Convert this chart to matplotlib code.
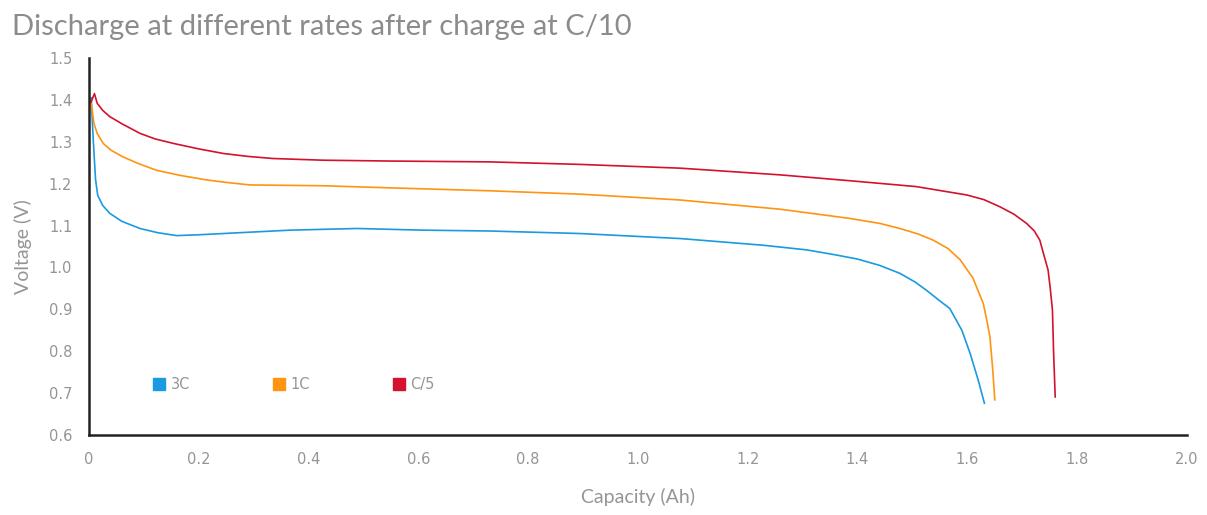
import matplotlib
matplotlib.use('Agg')
import matplotlib.pyplot as plt
from matplotlib.lines import Line2D

# Discharge curves (capacity in Ah, voltage in V)
cap_3c = [0.004, 0.008, 0.012, 0.016, 0.025, 0.038, 0.060, 0.093, 0.125, 0.160,
          0.200, 0.245, 0.366, 0.488, 0.609, 0.730, 0.894, 1.077, 1.228, 1.307,
          1.360, 1.400, 1.440, 1.477, 1.505, 1.526, 1.550, 1.568, 1.590, 1.605,
          1.620, 1.631]
volt_3c = [1.405, 1.300, 1.210, 1.172, 1.148, 1.129, 1.110, 1.093, 1.083, 1.076,
           1.078, 1.081, 1.089, 1.093, 1.089, 1.087, 1.081, 1.069, 1.053, 1.042,
           1.030, 1.020, 1.005, 0.986, 0.965, 0.945, 0.920, 0.902, 0.850, 0.795,
           0.730, 0.676]

cap_1c = [0.004, 0.009, 0.015, 0.026, 0.040, 0.062, 0.090, 0.123, 0.165, 0.214,
          0.250, 0.293, 0.427, 0.548, 0.730, 0.894, 1.077, 1.259, 1.386, 1.441,
          1.477, 1.510, 1.538, 1.565, 1.587, 1.610, 1.629, 1.636, 1.641, 1.646,
          1.650]
volt_1c = [1.395, 1.344, 1.320, 1.296, 1.280, 1.264, 1.248, 1.232, 1.220, 1.209,
           1.203, 1.197, 1.195, 1.190, 1.183, 1.175, 1.161, 1.139, 1.117, 1.105,
           1.093, 1.080, 1.065, 1.045, 1.018, 0.975, 0.914, 0.870, 0.835, 0.760,
           0.684]

cap_c5 = [0.004, 0.010, 0.015, 0.025, 0.038, 0.060, 0.093, 0.120, 0.154, 0.200,
          0.245, 0.290, 0.336, 0.427, 0.548, 0.730, 0.894, 1.077, 1.259, 1.386,
          1.507, 1.599, 1.630, 1.659, 1.685, 1.708, 1.722, 1.732, 1.741, 1.747,
          1.751, 1.755, 1.757, 1.760]
volt_c5 = [1.395, 1.415, 1.392, 1.375, 1.360, 1.343, 1.320, 1.307, 1.296, 1.283,
           1.272, 1.265, 1.260, 1.256, 1.254, 1.252, 1.246, 1.237, 1.221, 1.207,
           1.193, 1.173, 1.162, 1.145, 1.127, 1.105, 1.087, 1.065, 1.022, 0.994,
           0.950, 0.898, 0.800, 0.691]

series_labels = ['3C', '1C', 'C/5']
series_colors = ['#1a9ae0', '#ff9312', '#d2122e']

x_ticks = [0, 0.2, 0.4, 0.6, 0.8, 1.0, 1.2, 1.4, 1.6, 1.8, 2.0]
x_tick_labels = ['0', '0.2', '0.4', '0.6', '0.8', '1.0', '1.2', '1.4', '1.6', '1.8', '2.0']
y_ticks = [0.6, 0.7, 0.8, 0.9, 1.0, 1.1, 1.2, 1.3, 1.4, 1.5]

GREY = '#959595'
TICK_FONT = ['Liberation Sans Narrow', 'DejaVu Sans']

fig = plt.figure(figsize=(12.07, 5.15), dpi=100)
ax = fig.add_axes([0.0737, 0.1553, 0.9097, 0.7321])

curves = [(cap_3c, volt_3c), (cap_1c, volt_1c), (cap_c5, volt_c5)]
for (cap, volt), color in zip(curves, series_colors):
    ax.plot(cap, volt, color=color, linewidth=1.2, solid_joinstyle='round')

ax.set_xlim(0, 2.0)
ax.set_ylim(0.6, 1.5)
ax.set_xticks(x_ticks)
ax.set_xticklabels(x_tick_labels)
ax.set_yticks(y_ticks)
ax.set_yticklabels([f'{v:.1f}' for v in y_ticks])
ax.tick_params(length=0, colors=GREY, labelsize=10.5)
ax.tick_params(axis='x', pad=12)
ax.tick_params(axis='y', pad=12)
for lbl in ax.get_xticklabels() + ax.get_yticklabels():
    lbl.set_family(TICK_FONT)

for side in ['top', 'right']:
    ax.spines[side].set_visible(False)
for side in ['left', 'bottom']:
    ax.spines[side].set_color('#222222')
    ax.spines[side].set_linewidth(1.8)

ax.set_xlabel('Capacity (Ah)', color=GREY, fontsize=14, family=['Lato', 'DejaVu Sans'], labelpad=15)
ax.set_ylabel('Voltage (V)', color=GREY, fontsize=14, family=['Lato', 'DejaVu Sans'], labelpad=12)

fig.text(0.010, 0.948, 'Discharge at different rates after charge at C/10', color='#8c8c8c',
         fontsize=21, family=['Lato', 'DejaVu Sans'], va='center', ha='left')

handles = [Line2D([], [], linestyle='none', marker='s', markersize=9,
                  markerfacecolor=c, markeredgecolor=c) for c in series_colors]
leg = ax.legend(handles, series_labels, ncol=3, loc='center left',
                bbox_to_anchor=(0.045, 0.133), frameon=False, handletextpad=0.3,
                columnspacing=5.6, handlelength=1.0,
                prop={'family': TICK_FONT, 'size': 10.5})
for t in leg.get_texts():
    t.set_color(GREY)

fig.savefig('out.png', dpi=100)
